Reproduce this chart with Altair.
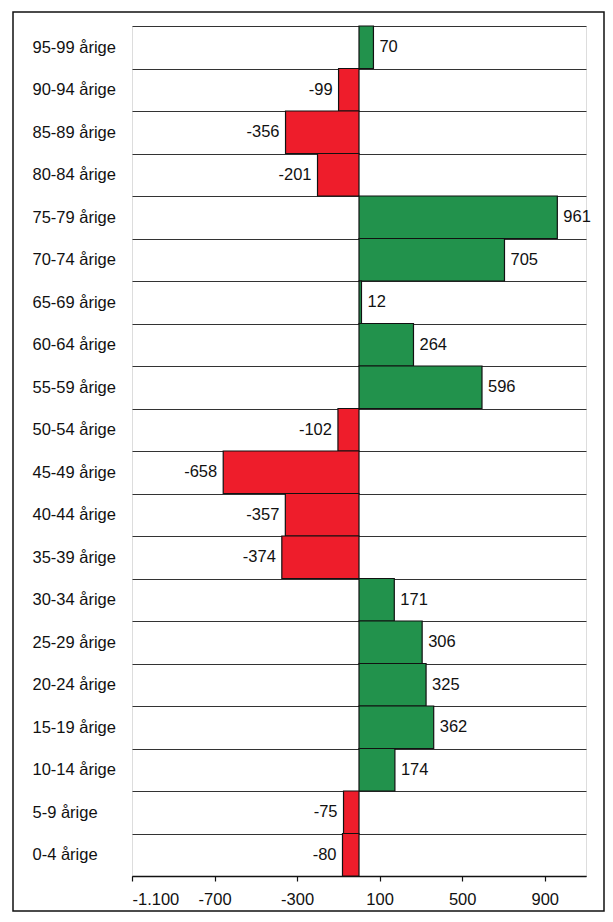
import altair as alt
import pandas as pd

categories = ["95-99 årige", "90-94 årige", "85-89 årige", "80-84 årige", "75-79 årige",
              "70-74 årige", "65-69 årige", "60-64 årige", "55-59 årige", "50-54 årige",
              "45-49 årige", "40-44 årige", "35-39 årige", "30-34 årige", "25-29 årige",
              "20-24 årige", "15-19 årige", "10-14 årige", "5-9 årige", "0-4 årige"]
values = [70, -99, -356, -201, 961, 705, 12, 264, 596, -102,
          -658, -357, -374, 171, 306, 325, 362, 174, -75, -80]
x_ticks = [-1100, -700, -300, 100, 500, 900]

GREEN = "#22924c"
RED = "#ee1d2b"
FONT = "Liberation Sans"

df = pd.DataFrame({"cat": categories, "v": values})
df["lbl"] = df["v"].astype(str)

base = alt.Chart(df)

y_enc = alt.Y("cat:N", sort=categories, title=None,
              scale=alt.Scale(paddingInner=0, paddingOuter=0),
              axis=alt.Axis(ticks=False, domain=False, grid=True, tickBand="extent",
                            gridColor="#333333", gridWidth=1, gridOpacity=1,
                            labelAlign="left", labelPadding=100, labelFont=FONT,
                            labelFontSize=16.5, labelColor="#111111"))
x_enc = alt.X("v:Q", title=None,
              scale=alt.Scale(domain=[-1100, 1100], nice=False, zero=True),
              axis=alt.Axis(values=x_ticks, grid=False, domainColor="#111111",
                            domainWidth=1.5, tickColor="#111111", tickSize=5,
                            tickWidth=1.2, labelPadding=10, labelFont=FONT,
                            labelFontSize=16.5, labelColor="#111111",
                            labelExpr="(datum.value < 0 ? '-' : '') + replace(format(abs(datum.value), ','), ',', '.')"))

bars = base.mark_bar(stroke="#111111", strokeWidth=1.2).encode(
    y=y_enc, x=x_enc,
    color=alt.condition(alt.datum.v > 0, alt.value(GREEN), alt.value(RED)),
)

pos_text = base.transform_filter(alt.datum.v > 0).mark_text(
    align="left", baseline="middle", dx=6, font=FONT, fontSize=16.5, color="#111111"
).encode(y=alt.Y("cat:N", sort=categories), x="v:Q", text="lbl:N")

neg_text = base.transform_filter(alt.datum.v < 0).mark_text(
    align="right", baseline="middle", dx=-6, font=FONT, fontSize=16.5, color="#111111"
).encode(y=alt.Y("cat:N", sort=categories), x="v:Q", text="lbl:N")

frame = alt.Chart(pd.DataFrame({"a": [0]})).mark_rect(
    fill=None, stroke="#111111", strokeWidth=1.5
).encode(x=alt.value(-119), x2=alt.value(472), y=alt.value(-14), y2=alt.value(885))

chart = alt.layer(bars, pos_text, neg_text, frame).properties(
    width=454, height=850,
    autosize=alt.AutoSizeParams(type="none"),
    padding={"left": 124, "top": 18, "right": 19, "bottom": 36},
).configure_view(stroke=None).configure(background="white")

chart.save("out.html", embed_options={"renderer": "svg", "actions": False})
